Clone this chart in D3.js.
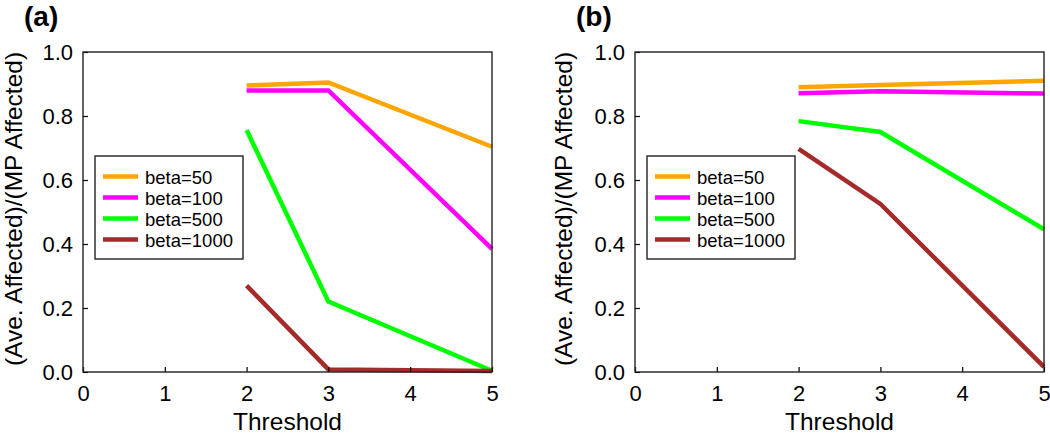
<!DOCTYPE html>
<html>
<head>
<meta charset="utf-8">
<script src="https://cdn.jsdelivr.net/npm/d3@7"></script>
<style>
  body { margin: 0; background: #fff; }
  svg { display: block; font-family: "Liberation Sans", Arial, sans-serif; }
</style>
</head>
<body>
<svg id="chart" width="1050" height="437"></svg>
<script>
// data
const thresholds = [2, 3, 5];
const seriesNames = ['beta=50', 'beta=100', 'beta=500', 'beta=1000'];
const seriesColors = ['#ffa500', '#ff00ff', '#00ff00', '#a52a2a'];
const panelA = [
  [0.895, 0.905, 0.704],
  [0.88, 0.88, 0.385],
  [0.756, 0.22, 0.004],
  [0.27, 0.008, 0.003]
];
const panelB = [
  [0.89, 0.897, 0.91],
  [0.871, 0.877, 0.87],
  [0.784, 0.75, 0.446],
  [0.697, 0.525, 0.016]
];
const xTicks = [0, 1, 2, 3, 4, 5];
const yTicks = [0, 0.2, 0.4, 0.6, 0.8, 1.0];

const svg = d3.select('#chart');

let panels = [
  { label: '(a)', data: panelA, left: 83, right: 492, labelX: 24, titleX: 22 },
  { label: '(b)', data: panelB, left: 635, right: 1044, labelX: 576, titleX: 572 }
];
let plotTop = 52, plotBottom = 372;

panels.forEach(p => {
  let x = d3.scaleLinear().domain([0, 5]).range([p.left, p.right]);
  let y = d3.scaleLinear().domain([0, 1]).range([plotBottom, plotTop]);
  let g = svg.append('g');

  // lines first, frame on top
  let line = d3.line()
    .x((d, i) => x(thresholds[i]))
    .y(d => y(d));

  p.data.forEach((vals, i) => {
    g.append('path')
      .attr('d', line(vals))
      .attr('fill', 'none')
      .attr('stroke', seriesColors[i])
      .attr('stroke-width', 4.5)
      .attr('stroke-linejoin', 'miter');
  });

  // x axis, ticks pointing inward
  g.append('g')
    .attr('transform', `translate(0,${plotBottom})`)
    .call(d3.axisBottom(x).tickValues(xTicks).tickFormat(d3.format('d')).tickSizeInner(-5).tickSizeOuter(0).tickPadding(13))
    .call(g => g.select('.domain').remove())
    .call(g => g.selectAll('text').attr('font-size', 22).attr('fill', '#000').attr('font-family', null))
    .call(g => g.selectAll('line').attr('stroke', '#000').attr('stroke-width', 1.2));

  g.append('g')
    .attr('transform', `translate(${p.left},0)`)
    .call(d3.axisLeft(y).tickValues(yTicks).tickFormat(d3.format('.1f')).tickSizeInner(-5).tickSizeOuter(0).tickPadding(10))
    .call(g => g.select('.domain').remove())
    .call(g => g.selectAll('text').attr('font-size', 22).attr('fill', '#000').attr('font-family', null))
    .call(g => g.selectAll('line').attr('stroke', '#000').attr('stroke-width', 1.2));

  // frame
  g.append('rect')
    .attr('x', p.left).attr('y', plotTop)
    .attr('width', p.right - p.left).attr('height', plotBottom - plotTop)
    .attr('fill', 'none').attr('stroke', '#222').attr('stroke-width', 1.4);

  // axis titles
  g.append('text')
    .attr('x', (p.left + p.right) / 2)
    .attr('y', 430)
    .attr('text-anchor', 'middle')
    .attr('font-size', 24.5)
    .text('Threshold');

  g.append('text')
    .attr('transform', `translate(${p.titleX},${(plotTop + plotBottom) / 2 - 3}) rotate(-90)`)
    .attr('text-anchor', 'middle')
    .attr('font-size', 24.5)
    .text('(Ave. Affected)/(MP Affected)');

  g.append('text')
    .attr('x', p.labelX)
    .attr('y', 26)
    .attr('font-size', 28)
    .attr('font-weight', 'bold')
    .text(p.label);

  // legend
  let lx = p.left + 12, ly = 156;
  g.append('rect')
    .attr('x', lx).attr('y', ly)
    .attr('width', 148).attr('height', 103)
    .attr('fill', '#fff').attr('stroke', '#222').attr('stroke-width', 1.4);

  seriesNames.forEach((name, i) => {
    let rowY = ly + 20.5 + i * 21;
    g.append('line')
      .attr('x1', lx + 8).attr('x2', lx + 43)
      .attr('y1', rowY).attr('y2', rowY)
      .attr('stroke', seriesColors[i]).attr('stroke-width', 4.5);
    g.append('text')
      .attr('x', lx + 50).attr('y', rowY + 7)
      .attr('font-size', 18.5)
      .text(name);
  });
});
</script>
</body>
</html>
